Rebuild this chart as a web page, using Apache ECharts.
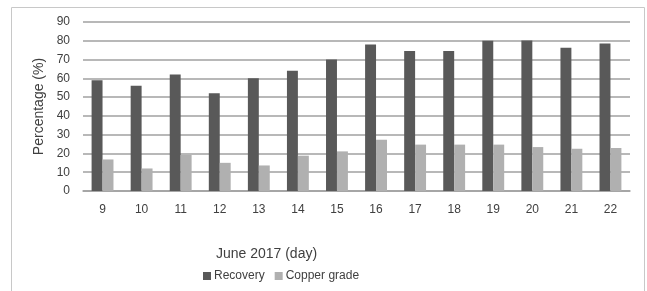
<!DOCTYPE html>
<html>
<head>
<meta charset="utf-8">
<script src="https://cdn.jsdelivr.net/npm/echarts@6/dist/echarts.min.js"></script>
<style>
html, body { margin: 0; padding: 0; background: #fff; }
#echart { width: 647px; height: 291px; }
</style>
</head>
<body>
<div id="echart"></div>
<script>
var days = ['9', '10', '11', '12', '13', '14', '15', '16', '17', '18', '19', '20', '21', '22'];
var recovery = [59, 56, 62, 52, 60, 64, 70, 78, 74.5, 74.5, 80, 80.2, 76.3, 78.6];
var copperGrade = [16.8, 12, 19.2, 15, 13.6, 18.8, 21.1, 27.3, 24.7, 24.7, 24.7, 23.4, 22.5, 22.9];
var yTicks = [0, 10, 20, 30, 40, 50, 60, 70, 80, 90];

var myChart = echarts.init(document.getElementById('echart'));
var font = 'Liberation Sans, Arial, sans-serif';

var option = {
    animation: false,
    graphic: [{
        type: 'rect',
        shape: {x: 11.5, y: 7.5, width: 633, height: 290},
        style: {fill: 'none', stroke: '#c8c8c8', lineWidth: 1}
    }],
    grid: {left: 83, right: 17, top: 22, bottom: 100},
    legend: {
        data: ['Recovery', 'Copper grade'],
        left: 198,
        top: 265,
        itemWidth: 8,
        itemHeight: 8,
        itemGap: 10,
        icon: 'rect',
        textStyle: {fontFamily: font, fontSize: 12, color: '#404040', padding: [0, 0, 0, -2]}
    },
    xAxis: {
        type: 'category',
        data: days,
        name: 'June 2017 (day)',
        nameLocation: 'middle',
        nameGap: 56,
        nameTextStyle: {fontFamily: font, fontSize: 14, color: '#404040', padding: [0, 180, 0, 0]},
        axisLine: {lineStyle: {color: '#a0a0a0', width: 1.5}},
        axisTick: {show: false},
        axisLabel: {fontFamily: font, fontSize: 12, color: '#404040', margin: 13}
    },
    yAxis: {
        type: 'value',
        min: 0,
        max: 90,
        interval: 10,
        name: 'Percentage (%)',
        nameLocation: 'middle',
        nameGap: 35,
        nameTextStyle: {fontFamily: font, fontSize: 14, color: '#404040'},
        axisLine: {show: false},
        axisTick: {show: false},
        axisLabel: {
            fontFamily: font, fontSize: 12, color: '#404040', margin: 13,
            formatter: function (v) { return yTicks.indexOf(v) >= 0 ? String(v) : ''; }
        },
        splitLine: {lineStyle: {color: '#a0a0a0', width: 1.5}}
    },
    series: [
        {
            name: 'Recovery',
            type: 'bar',
            data: recovery,
            barGap: '0%',
            barCategoryGap: '44%',
            itemStyle: {color: '#595959'}
        },
        {
            name: 'Copper grade',
            type: 'bar',
            data: copperGrade,
            itemStyle: {color: '#b0b0b0'}
        }
    ]
};
myChart.setOption(option);
</script>
</body>
</html>
